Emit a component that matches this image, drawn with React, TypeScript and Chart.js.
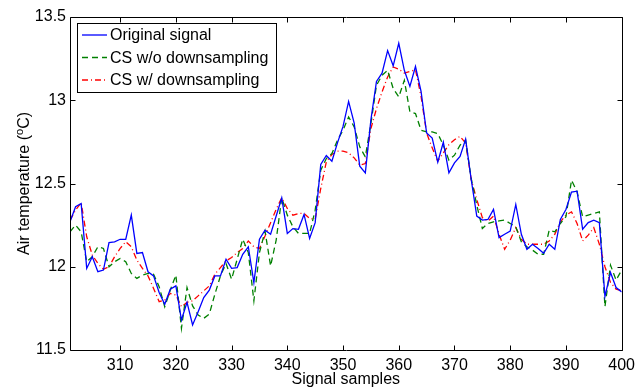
import React, { useEffect, useRef } from "react";
import { Chart, registerables } from "chart.js";

Chart.register(...registerables);

const FIRST_SAMPLE = 301;

const ORIGINAL = [
  12.27, 12.36, 12.38, 11.99, 12.06, 11.97, 11.98, 12.145, 12.15, 12.165,
  12.165, 12.31, 12.08, 12.085, 11.97, 11.945, 11.845, 11.775, 11.865, 11.885,
  11.68, 11.786, 11.65, 11.73, 11.815, 11.86, 11.945, 11.945, 12.045, 11.99,
  11.995, 12.075, 12.12, 11.905, 12.165, 12.22, 12.195, 12.305, 12.414, 12.2,
  12.229, 12.225, 12.314, 12.17, 12.265, 12.614, 12.668, 12.634, 12.744, 12.843,
  12.993, 12.863, 12.604, 12.564, 12.883, 13.113, 13.163, 13.298, 13.207, 13.342,
  13.18, 13.083, 13.203, 13.053, 12.803, 12.773, 12.628, 12.748, 12.564, 12.624,
  12.663, 12.767, 12.524, 12.304, 12.28, 12.284, 12.344, 12.175, 12.195, 12.214,
  12.374, 12.195, 12.105, 12.135, 12.109, 12.081, 12.135, 12.105, 12.284, 12.344,
  12.448, 12.454, 12.225, 12.265, 12.28, 12.265, 11.822, 11.965, 11.875, 11.849,
];

const CS_NO_DOWNSAMPLING = [
  12.21, 12.25, 12.21, 12.03, 12.06, 12.12, 12.11, 12.0, 12.03, 12.05,
  12.03, 11.96, 11.93, 11.95, 11.96, 11.955, 11.88, 11.76, 11.86, 11.95,
  11.63, 11.875, 11.765, 11.71, 11.69, 11.716, 11.835, 11.945, 12.02, 11.925,
  12.045, 12.165, 12.085, 11.795, 12.085, 12.214, 12.005, 12.16, 12.414, 12.31,
  12.24, 12.2, 12.2, 12.2, 12.34, 12.58, 12.65, 12.68, 12.76, 12.82,
  12.9, 12.84, 12.72, 12.66, 12.86, 13.09, 13.15, 13.18, 13.07, 13.02,
  13.12, 12.93, 12.92, 12.82, 12.81, 12.81, 12.8, 12.73, 12.64, 12.67,
  12.73, 12.76, 12.53, 12.37, 12.23, 12.26, 12.27, 12.275, 12.28, 12.26,
  12.24, 12.15, 12.12, 12.1, 12.075, 12.075, 12.22, 12.21, 12.26, 12.3,
  12.52, 12.45, 12.3, 12.31, 12.32, 12.33, 11.76, 12.01, 11.92, 11.98,
];

const CS_WITH_DOWNSAMPLING = [
  12.28, 12.34, 12.385, 12.18, 12.07, 12.02, 11.985, 12.0, 12.06, 12.11,
  12.15, 12.12, 12.04, 11.99, 11.945, 11.87, 11.79, 11.8, 11.84, 11.83,
  11.76, 11.786, 11.795, 11.825, 11.855, 11.885, 11.955, 11.995, 12.035, 12.055,
  12.085, 12.11, 12.155, 12.12, 12.11, 12.185, 12.265, 12.345, 12.414, 12.35,
  12.31, 12.32, 12.32, 12.29, 12.285, 12.47, 12.63, 12.674, 12.694, 12.694,
  12.684, 12.654, 12.61, 12.62, 12.83, 12.95, 13.05, 13.14, 13.2, 13.187,
  13.163, 13.173, 13.183, 13.023, 12.803, 12.714, 12.634, 12.684, 12.733, 12.763,
  12.783, 12.743, 12.524, 12.404, 12.295, 12.274, 12.304, 12.195, 12.105, 12.16,
  12.235, 12.165, 12.135, 12.135, 12.135, 12.135, 12.155, 12.195, 12.27, 12.31,
  12.33, 12.26, 12.155, 12.19, 12.235, 12.135, 12.0, 11.906, 11.866, 11.856,
];

const X_TICKS = [310, 320, 330, 340, 350, 360, 370, 380, 390, 400];
const Y_TICKS = [11.5, 12, 12.5, 13, 13.5];
const X_MIN = 301;
const X_MAX = 400;
const Y_MIN = 11.5;
const Y_MAX = 13.5;

const SERIES_LABELS = ["Original signal", "CS w/o downsampling", "CS w/ downsampling"];
const X_TITLE = "Signal samples";
const Y_TITLE_A = "Air temperature (";
const Y_TITLE_SUP = "o";
const Y_TITLE_B = "C)";

const COLORS = ["#0000ff", "#008000", "#ff0000"];
const DASHES: number[][] = [[], [6, 4], [6, 3, 1, 3]];
const FONT = "'Liberation Sans', Arial, Helvetica, sans-serif";

const toPoints = (vals: number[]) => vals.map((v, i) => ({ x: FIRST_SAMPLE + i, y: v }));

const decorPlugin = {
  id: "decor",
  afterDraw(chart: any) {
    const { ctx, chartArea: a, scales } = chart;
    ctx.save();
    ctx.strokeStyle = "#000";
    ctx.lineWidth = 1;
    ctx.setLineDash([]);
    const L = Math.round(a.left) + 0.5;
    const R = Math.round(a.right) + 0.5;
    const T = Math.round(a.top) + 0.5;
    const B = Math.round(a.bottom) + 0.5;
    ctx.beginPath();
    ctx.rect(L, T, R - L, B - T);
    ctx.stroke();
    const tl = 5;
    ctx.beginPath();
    X_TICKS.forEach((v) => {
      const x = Math.round(scales.x.getPixelForValue(v)) + 0.5;
      ctx.moveTo(x, B);
      ctx.lineTo(x, B - tl);
      ctx.moveTo(x, T);
      ctx.lineTo(x, T + tl);
    });
    Y_TICKS.forEach((v) => {
      const y = Math.round(scales.y.getPixelForValue(v)) + 0.5;
      ctx.moveTo(L, y);
      ctx.lineTo(L + tl, y);
      ctx.moveTo(R, y);
      ctx.lineTo(R - tl, y);
    });
    ctx.stroke();

    // legend
    const bx = 77.5, by = 23.5, bw = 199, bh = 69;
    ctx.fillStyle = "#fff";
    ctx.fillRect(bx, by, bw, bh);
    ctx.strokeStyle = "#000";
    ctx.strokeRect(bx, by, bw, bh);
    ctx.font = `16px ${FONT}`;
    ctx.textBaseline = "middle";
    ctx.textAlign = "left";
    const rows = [35, 57.5, 80];
    SERIES_LABELS.forEach((lab, i) => {
      ctx.strokeStyle = COLORS[i];
      ctx.lineWidth = 1.3;
      ctx.setLineDash(DASHES[i]);
      ctx.beginPath();
      ctx.moveTo(82, rows[i]);
      ctx.lineTo(107, rows[i]);
      ctx.stroke();
      ctx.setLineDash([]);
      ctx.fillStyle = "#000";
      ctx.fillText(lab, 110, rows[i] + 1);
    });

    // axis titles
    ctx.fillStyle = "#000";
    ctx.font = `16px ${FONT}`;
    ctx.textAlign = "center";
    ctx.textBaseline = "alphabetic";
    ctx.fillText(X_TITLE, (a.left + a.right) / 2, 384);

    ctx.save();
    const cy = (a.top + a.bottom) / 2;
    ctx.translate(29, cy);
    ctx.rotate(-Math.PI / 2);
    ctx.font = `16px ${FONT}`;
    const wA = ctx.measureText(Y_TITLE_A).width;
    const wB = ctx.measureText(Y_TITLE_B).width;
    ctx.font = `11px ${FONT}`;
    const wS = ctx.measureText(Y_TITLE_SUP).width;
    const total = wA + wS + wB;
    let x0 = -total / 2;
    ctx.textAlign = "left";
    ctx.font = `16px ${FONT}`;
    ctx.fillText(Y_TITLE_A, x0, 0);
    x0 += wA;
    ctx.font = `11px ${FONT}`;
    ctx.fillText(Y_TITLE_SUP, x0, -6);
    x0 += wS;
    ctx.font = `16px ${FONT}`;
    ctx.fillText(Y_TITLE_B, x0, 0);
    ctx.restore();

    ctx.restore();
  },
};

export default function App() {
  const ref = useRef<HTMLCanvasElement | null>(null);
  useEffect(() => {
    if (!ref.current) return;
    const chart = new Chart(ref.current, {
      type: "line",
      data: {
        datasets: [ORIGINAL, CS_NO_DOWNSAMPLING, CS_WITH_DOWNSAMPLING].map((vals, i) => ({
          label: SERIES_LABELS[i],
          data: toPoints(vals),
          borderColor: COLORS[i],
          backgroundColor: COLORS[i],
          borderWidth: 1.3,
          borderDash: DASHES[i],
          pointRadius: 0,
          tension: 0,
          fill: false,
        })),
      },
      options: {
        responsive: false,
        animation: false,
        layout: { padding: { left: 0, right: 14, top: 17, bottom: 0 } },
        plugins: { legend: { display: false }, tooltip: { enabled: false } },
        scales: {
          x: {
            type: "linear",
            min: X_MIN,
            max: X_MAX,
            grid: { display: false, drawTicks: false },
            border: { display: false },
            afterBuildTicks: (s: any) => {
              s.ticks = X_TICKS.map((v) => ({ value: v }));
            },
            afterFit: (s: any) => {
              s.height = 37;
            },
            ticks: {
              color: "#000",
              font: { family: FONT, size: 16 },
              padding: 6,
              maxRotation: 0,
              autoSkip: false,
              callback: (v: any) => String(v),
            },
          },
          y: {
            type: "linear",
            min: Y_MIN,
            max: Y_MAX,
            grid: { display: false, drawTicks: false },
            border: { display: false },
            afterBuildTicks: (s: any) => {
              s.ticks = Y_TICKS.map((v) => ({ value: v }));
            },
            afterFit: (s: any) => {
              s.width = 70;
            },
            ticks: {
              color: "#000",
              font: { family: FONT, size: 16 },
              padding: 4,
              callback: (v: any) => String(v),
            },
          },
        },
      },
      plugins: [decorPlugin],
    } as any);
    return () => chart.destroy();
  }, []);
  return (
    <div style={{ position: "fixed", left: 0, top: 0, width: 641, height: 387, background: "#fff" }}>
      <canvas ref={ref} width={641} height={387} style={{ display: "block" }} />
    </div>
  );
}
